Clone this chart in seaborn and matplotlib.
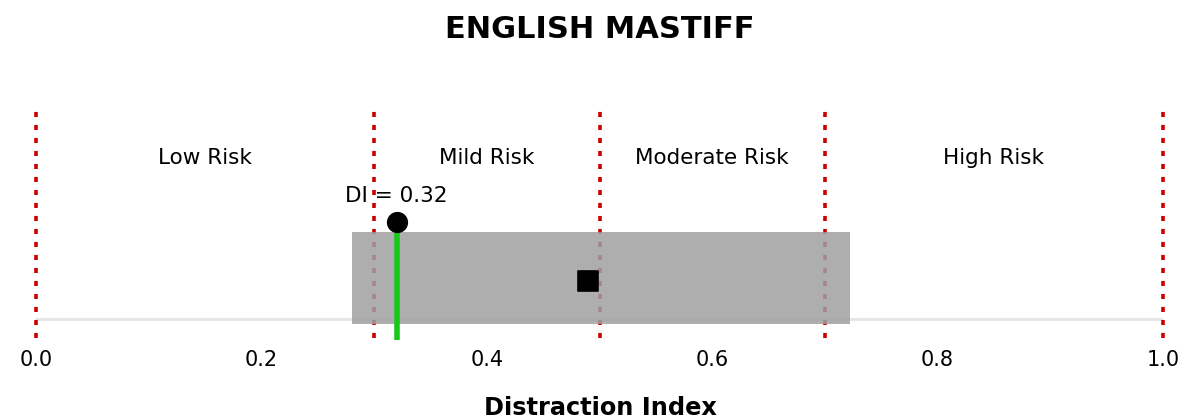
import numpy as np
import pandas as pd
import matplotlib
matplotlib.use("Agg")
import matplotlib.pyplot as plt
import seaborn as sns

# values
breed = "ENGLISH MASTIFF"
thresholds = [0.0, 0.3, 0.5, 0.7, 1.0]
risk_labels = ["Low Risk", "Mild Risk", "Moderate Risk", "High Risk"]
risk_centers = [0.15, 0.40, 0.60, 0.85]
di_value = 0.32
range_low, range_high = 0.28, 0.722
breed_mean = 0.49
xticks = [0.0, 0.2, 0.4, 0.6, 0.8, 1.0]

sns.set_theme(style="white")
plt.rcParams["font.family"] = ["DejaVu Sans"]
plt.rcParams["text.color"] = "black"

W, H = 1185, 419
fig = plt.figure(figsize=(W / 100, H / 100), dpi=100)
# axes in pixel terms: x 0..1 -> px 36..1163, y px 100..340
ax = fig.add_axes([36 / W, 1 - 340 / H, (1163 - 36) / W, 240 / H])
ax.set_xlim(0, 1)
ax.set_ylim(-0.21, 2.19)

# zero line
ax.plot([0, 1], [0, 0], color="#e5e5e5", lw=2, zorder=1)

# risk thresholds
ax.vlines(thresholds, -0.19, 2.13, colors="#cc0000", lw=2.6,
          linestyles=(0, (1.4, 2.2)), zorder=2, clip_on=False)

for lab, cx in zip(risk_labels, risk_centers):
    ax.text(cx, 1.61, lab, ha="center", va="center", fontsize=15.5, color="black")

# breed range box
ax.add_patch(plt.Rectangle((range_low, -0.05), range_high - range_low, 0.92,
                           facecolor="#a0a0a0", edgecolor="none", alpha=0.85, zorder=3))

# DI marker
ax.plot([di_value, di_value], [-0.21, 0.87], color="#19c819", lw=4, zorder=4,
        solid_capstyle="butt", clip_on=False)
pts = pd.DataFrame({"x": [di_value, breed_mean], "y": [0.97, 0.385],
                    "kind": ["di", "mean"]})
sns.scatterplot(data=pts[pts.kind == "di"], x="x", y="y", ax=ax, s=200,
                marker="o", color="black", edgecolor="black", zorder=5, legend=False)
sns.scatterplot(data=pts[pts.kind == "mean"], x="x", y="y", ax=ax, s=220,
                marker="s", color="black", edgecolor="black", zorder=5, legend=False)
ax.text(di_value, 1.23, f"DI = {di_value:.2f}", ha="center", va="center",
        fontsize=15.5, color="black")

ax.set_xticks(xticks)
ax.set_xticklabels([f"{t:.1f}" for t in xticks], fontsize=15, color="black")
ax.tick_params(axis="x", length=5, width=1, color="#e5e5e5", pad=2)
ax.set_yticks([])
for s in ax.spines.values():
    s.set_visible(False)
ax.set_xlabel("")
ax.set_ylabel("")

fig.text(600 / W, 1 - 30 / H, breed, ha="center", va="center",
         fontsize=22, fontweight="bold", color="black")
fig.text(600 / W, 1 - 408 / H, "Distraction Index", ha="center", va="center",
         fontsize=17.3, fontweight="bold", color="black")

fig.savefig("out.png", dpi=100)
